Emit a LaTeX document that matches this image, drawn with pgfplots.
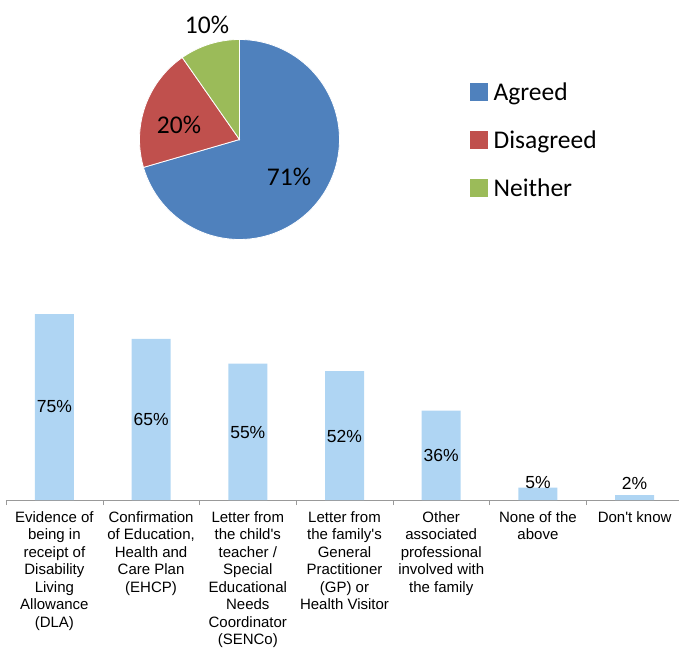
\documentclass[border=0pt]{standalone}
\usepackage{fontspec}
\setmainfont{Liberation Sans}
\newfontfamily\calibri{Carlito}
\usepackage{pgfplots}
\usepackage{pgfplotstable}
\pgfplotsset{compat=1.18}

\definecolor{agreed}{HTML}{4F81BD}
\definecolor{disagreed}{HTML}{C0504D}
\definecolor{neither}{HTML}{9BBB59}
\definecolor{barblue}{RGB}{175,213,243}

% pie shares (percent)
\pgfmathsetmacro{\pA}{70.5}
\pgfmathsetmacro{\pB}{19.8}
\pgfmathsetmacro{\pC}{9.7}
\pgfmathsetmacro{\aO}{90}
\pgfmathsetmacro{\aA}{\aO-3.6*\pA}
\pgfmathsetmacro{\aB}{\aA-3.6*\pB}
\pgfmathsetmacro{\aC}{\aB-3.6*\pC}

% bars: position, value, label height
\pgfplotstableread{
x y ly
0 75 37.5
1 65 32.6
2 55 27.2
3 52 25.5
4 36 17.8
5 5 6.9
6 2 6.5
}\bardata

\begin{document}
\begin{tikzpicture}
\useasboundingbox (0,0) rectangle (679pt,648pt);

% pie
\begin{axis}[
    at={(239.5pt,508.5pt)}, anchor=center,
    scale only axis, width=200pt, height=200pt,
    xmin=-1, xmax=1, ymin=-1, ymax=1,
    hide axis, clip=false,
    legend style={at={(1.6375,0.485)}, anchor=west, draw=none, fill=none,
        font=\calibri\fontsize{25.5}{28}\selectfont,
        nodes={inner sep=0pt, text height=19pt, text depth=6pt},
        /tikz/row sep=23pt,
        legend cell align=left},
    legend image code/.code={\fill[#1, draw=none] (0pt,-7pt) rectangle (18pt,11pt);
        \path (23pt,0pt);},
    ]
\addplot[fill=agreed, draw=white, line width=0.8pt, domain=\aA:\aO, samples=90, variable=\t]
    ({cos(t)},{sin(t)}) -- (0,0) -- cycle;
\addplot[fill=disagreed, draw=white, line width=0.8pt, domain=\aB:\aA, samples=40, variable=\t]
    ({cos(t)},{sin(t)}) -- (0,0) -- cycle;
\addplot[fill=neither, draw=white, line width=0.8pt, domain=\aC:\aB, samples=20, variable=\t]
    ({cos(t)},{sin(t)}) -- (0,0) -- cycle;
\legend{Agreed,Disagreed,Neither}
\node[font=\calibri\fontsize{25.5}{28}\selectfont] at (0.495,-0.375) {71\%};
\node[font=\calibri\fontsize{25.5}{28}\selectfont] at (-0.605,0.145) {20\%};
\node[font=\calibri\fontsize{25.5}{28}\selectfont] at (-0.325,1.145) {10\%};
\end{axis}

% bars
\begin{axis}[
    at={(6pt,148pt)}, anchor=south west,
    scale only axis, width=677pt, height=198.4pt,
    xmin=-0.5, xmax=6.5, ymin=0, ymax=80,
    axis x line*=bottom, axis y line=none,
    x axis line style={-, gray!80},
    xtick={0,...,6},
    major tick length=0pt,
    minor xtick={-0.5,0.5,...,6.5},
    minor tick length=5pt,
    tick align=outside,
    tick style={gray!80},
    ytick=\empty,
    /pgf/number format/assume math mode=true,
    xticklabel style={align=center, anchor=north, yshift=-8pt,
        font=\fontsize{15}{17.5}\selectfont},
    xticklabels={
        {Evidence of\\being in\\receipt of\\Disability\\Living\\Allowance\\(DLA)},
        {Confirmation\\of Education,\\Health and\\Care Plan\\(EHCP)},
        {Letter from\\the child\textquotesingle s\\teacher /\\Special\\Educational\\Needs\\Coordinator\\(SENCo)},
        {Letter from\\the family\textquotesingle s\\General\\Practitioner\\(GP) or\\Health Visitor},
        {Other\\associated\\professional\\involved with\\the family},
        {None of the\\above},
        {Don\textquotesingle t know}},
    ]
\addplot[ybar, bar width=39pt, bar shift=0pt, fill=barblue, draw=none]
    table[x=x, y=y] {\bardata};
\addplot[draw=none, mark=none, nodes near coords={\pgfmathprintnumber{\pgfplotspointmeta}\%},
    point meta=explicit,
    nodes near coords style={anchor=center, font=\fontsize{17.5}{20}\selectfont}]
    table[x=x, y=ly, meta=y] {\bardata};
\end{axis}
\end{tikzpicture}
\end{document}
